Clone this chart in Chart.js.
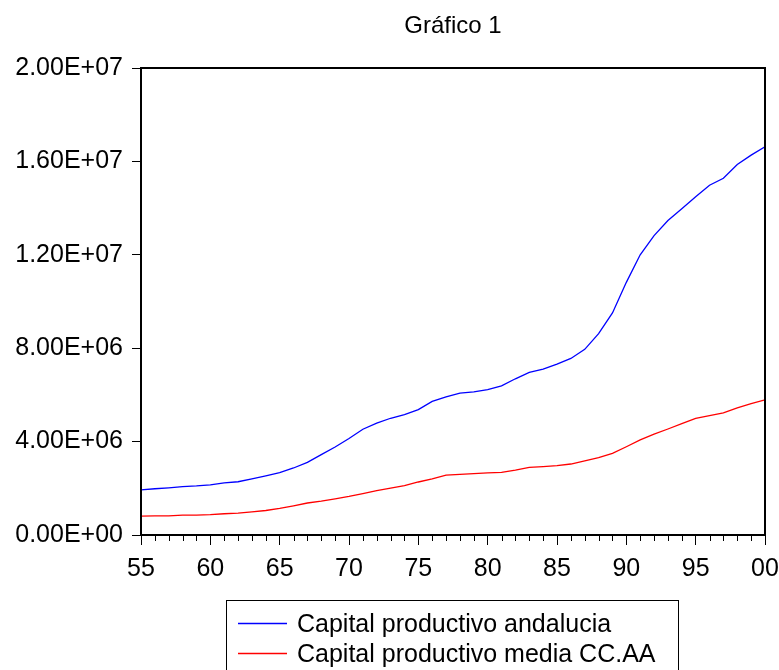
<!DOCTYPE html>
<html>
<head>
<meta charset="utf-8">
<script src="https://cdn.jsdelivr.net/npm/chart.js@4"></script>
<style>
  html, body { margin: 0; padding: 0; background: #fff; }
</style>
</head>
<body>
<canvas id="myChart" width="779" height="670"></canvas>
<script>
var FONT = "'Liberation Sans', Arial, sans-serif";

var years = [];
for (var yr = 1955; yr <= 2000; yr++) years.push(yr);

// millions
var andalucia = [
  1.93, 1.98, 2.02, 2.07, 2.10, 2.15, 2.23, 2.28, 2.40, 2.53,
  2.67, 2.87, 3.11, 3.44, 3.77, 4.13, 4.53, 4.79, 5.00, 5.16,
  5.37, 5.72, 5.92, 6.08, 6.13, 6.23, 6.39, 6.69, 6.96, 7.10,
  7.32, 7.56, 7.95, 8.62, 9.51, 10.82, 12.00, 12.82, 13.47, 13.97,
  14.49, 14.98, 15.28, 15.87, 16.27, 16.63
];
var mediaCCAA = [
  0.81, 0.82, 0.82, 0.85, 0.85, 0.87, 0.91, 0.94, 0.99, 1.05,
  1.14, 1.25, 1.37, 1.45, 1.55, 1.65, 1.77, 1.90, 2.01, 2.11,
  2.27, 2.40, 2.56, 2.60, 2.63, 2.66, 2.68, 2.78, 2.90, 2.93,
  2.97, 3.04, 3.17, 3.31, 3.50, 3.78, 4.07, 4.32, 4.54, 4.77,
  4.99, 5.11, 5.23, 5.44, 5.63, 5.79
];
var seriesNames = ["Capital productivo andalucia", "Capital productivo media CC.AA"];
var seriesColors = ["#0000ff", "#ff0000"];
var chartTitle = "Gráfico 1";

function toPoints(vals) {
  return years.map(function (y, i) { return { x: y, y: vals[i] * 1e6 }; });
}

function sci(v) {
  if (v === 0) return "0.00E+00";
  var e = Math.floor(Math.log10(v) + 1e-9);
  var m = v / Math.pow(10, e);
  return m.toFixed(2) + "E+" + (e < 10 ? "0" : "") + e;
}

var framePlugin = {
  id: "frame",
  afterDraw: function (chart) {
    var c = chart.ctx, a = chart.chartArea;
    var xs = chart.scales.x;
    c.save();
    // minor year ticks
    c.strokeStyle = "#000";
    c.lineWidth = 1;
    years.forEach(function (y) {
      if (y % 5 === 0) return;
      var px = Math.round(xs.getPixelForValue(y)) + 0.5;
      c.beginPath();
      c.moveTo(px, a.bottom);
      c.lineTo(px, a.bottom + 6);
      c.stroke();
    });
    // box round the plot
    c.lineWidth = 2;
    c.strokeRect(a.left, a.top, a.right - a.left, a.bottom - a.top);
    // title
    c.fillStyle = "#000";
    c.font = "24px " + FONT;
    c.textAlign = "center";
    c.textBaseline = "alphabetic";
    c.fillText(chartTitle, (a.left + a.right) / 2, 33);
    // legend
    c.lineWidth = 1;
    c.strokeRect(226.5, 600.5, 452, 90);
    c.font = "25px " + FONT;
    c.textAlign = "left";
    chart.data.datasets.forEach(function (ds, i) {
      var ly = 623.5 + i * 30;
      c.strokeStyle = ds.borderColor;
      c.lineWidth = 1.5;
      c.beginPath();
      c.moveTo(238, ly);
      c.lineTo(287, ly);
      c.stroke();
      c.fillStyle = "#000";
      c.fillText(ds.label, 297, ly + 8);
    });
    c.restore();
  }
};

var ctx = document.getElementById("myChart");

var myChart = new Chart(ctx, {
  type: "line",
  data: {
    datasets: [
      {
        label: seriesNames[0],
        data: toPoints(andalucia),
        borderColor: seriesColors[0],
        borderWidth: 1.3,
        pointRadius: 0,
        tension: 0
      },
      {
        label: seriesNames[1],
        data: toPoints(mediaCCAA),
        borderColor: seriesColors[1],
        borderWidth: 1.3,
        pointRadius: 0,
        tension: 0
      }
    ]
  },
  options: {
    responsive: false,
    animation: false,
    layout: { padding: { left: 0, right: 14, top: 68, bottom: 0 } },
    plugins: {
      legend: { display: false },
      title: { display: false },
      tooltip: { enabled: false }
    },
    scales: {
      x: {
        type: "linear",
        min: 1955,
        max: 2000,
        afterFit: function (s) {
          s.height = 135;
          s.paddingLeft = 0;
          s.paddingRight = 0;
        },
        border: { display: true, color: "#000", width: 2 },
        grid: { drawOnChartArea: false, drawTicks: true, tickLength: 10, tickColor: "#000", tickWidth: 1 },
        ticks: {
          stepSize: 5,
          padding: 9,
          color: "#000",
          font: { family: FONT, size: 25 },
          maxRotation: 0,
          callback: function (v) { return String(v).slice(2); }
        }
      },
      y: {
        min: 0,
        max: 2e7,
        afterFit: function (s) {
          s.width = 141;
          s.paddingTop = 0;
          s.paddingBottom = 0;
        },
        border: { display: true, color: "#000", width: 2 },
        grid: { drawOnChartArea: false, drawTicks: true, tickLength: 9, tickColor: "#000", tickWidth: 1 },
        ticks: {
          stepSize: 4e6,
          padding: 9,
          color: "#000",
          font: { family: FONT, size: 25 },
          callback: function (v) { return sci(v); }
        }
      }
    }
  },
  plugins: [framePlugin]
});
</script>
</body>
</html>
